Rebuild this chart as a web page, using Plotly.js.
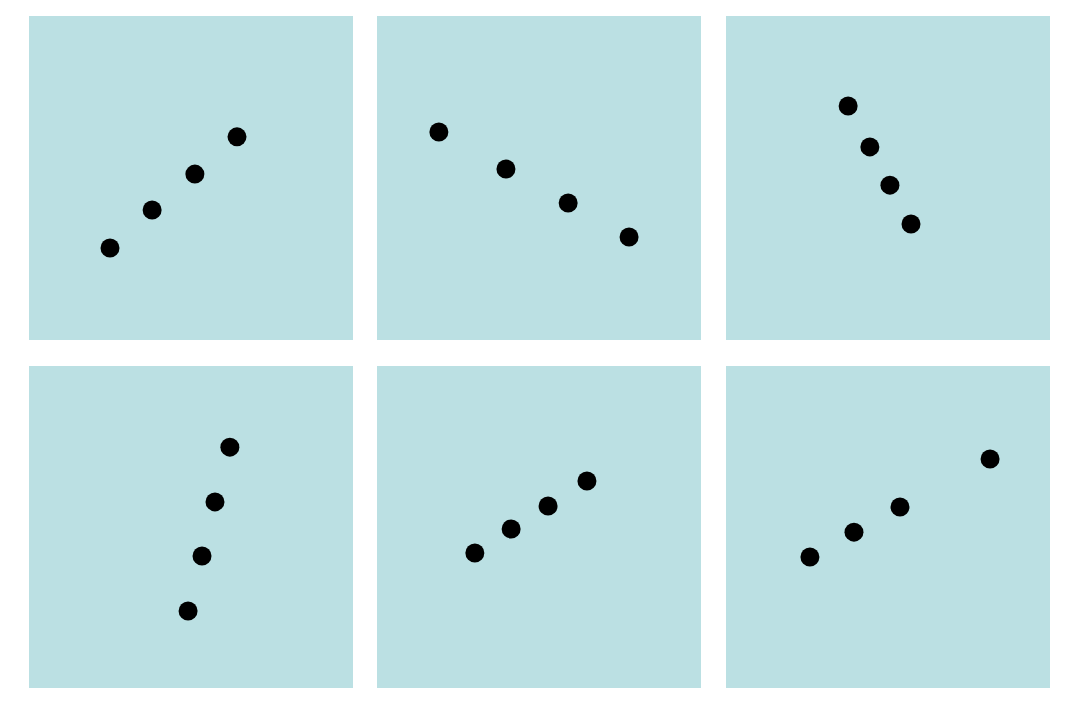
<!DOCTYPE html>
<html><head><meta charset="utf-8">
<script src="https://cdn.plot.ly/plotly-3.0.1.min.js"></script>
<style>html,body{margin:0;padding:0;background:#fff}#chart{width:1080px;height:710px}</style>
</head><body><div id="chart"></div>
<script>
const x1 = [2.50, 3.80, 5.12, 6.42];
const y1 = [2.84, 4.01, 5.12, 6.27];
const x2 = [1.91, 3.98, 5.90, 7.78];
const y2 = [6.42, 5.28, 4.23, 3.18];
const x3 = [3.77, 4.44, 5.06, 5.71];
const y3 = [7.22, 5.96, 4.78, 3.58];
const x4 = [6.20, 5.74, 5.34, 4.91];
const y4 = [7.48, 5.78, 4.10, 2.39];
const x5 = [3.02, 4.14, 5.28, 6.48];
const y5 = [4.19, 4.94, 5.65, 6.43];
const x6 = [2.59, 3.95, 5.37, 8.15];
const y6 = [4.07, 4.84, 5.62, 7.11];

const xs = [x1, x2, x3, x4, x5, x6];
const ys = [y1, y2, y3, y4, y5, y6];

const bg = 'rgb(187,224,227)';
const xDomains = [[29/1080, 353/1080], [377/1080, 701/1080], [726/1080, 1050/1080]];
const yDomains = [[1 - 340/710, 1 - 16/710], [1 - 688/710, 1 - 366/710]];

const traces = [];
const layout = {
  width: 1080, height: 710,
  margin: {l: 0, r: 0, t: 0, b: 0},
  paper_bgcolor: '#ffffff',
  plot_bgcolor: bg,
  showlegend: false
};
for (let i = 0; i < 6; i++) {
  const n = i === 0 ? '' : String(i + 1);
  traces.push({
    type: 'scatter', mode: 'markers',
    x: xs[i], y: ys[i],
    xaxis: 'x' + n, yaxis: 'y' + n,
    marker: {color: '#000000', size: 19},
    hoverinfo: 'skip'
  });
  const ax = {showgrid: false, zeroline: false, showticklabels: false, showline: false, ticks: '', range: [0, 10], fixedrange: true};
  layout['xaxis' + n] = Object.assign({}, ax, {domain: xDomains[i % 3], anchor: 'y' + n});
  layout['yaxis' + n] = Object.assign({}, ax, {domain: yDomains[Math.floor(i / 3)], anchor: 'x' + n});
}
Plotly.newPlot('chart', traces, layout, {displayModeBar: false, staticPlot: true});
</script>
</body></html>
